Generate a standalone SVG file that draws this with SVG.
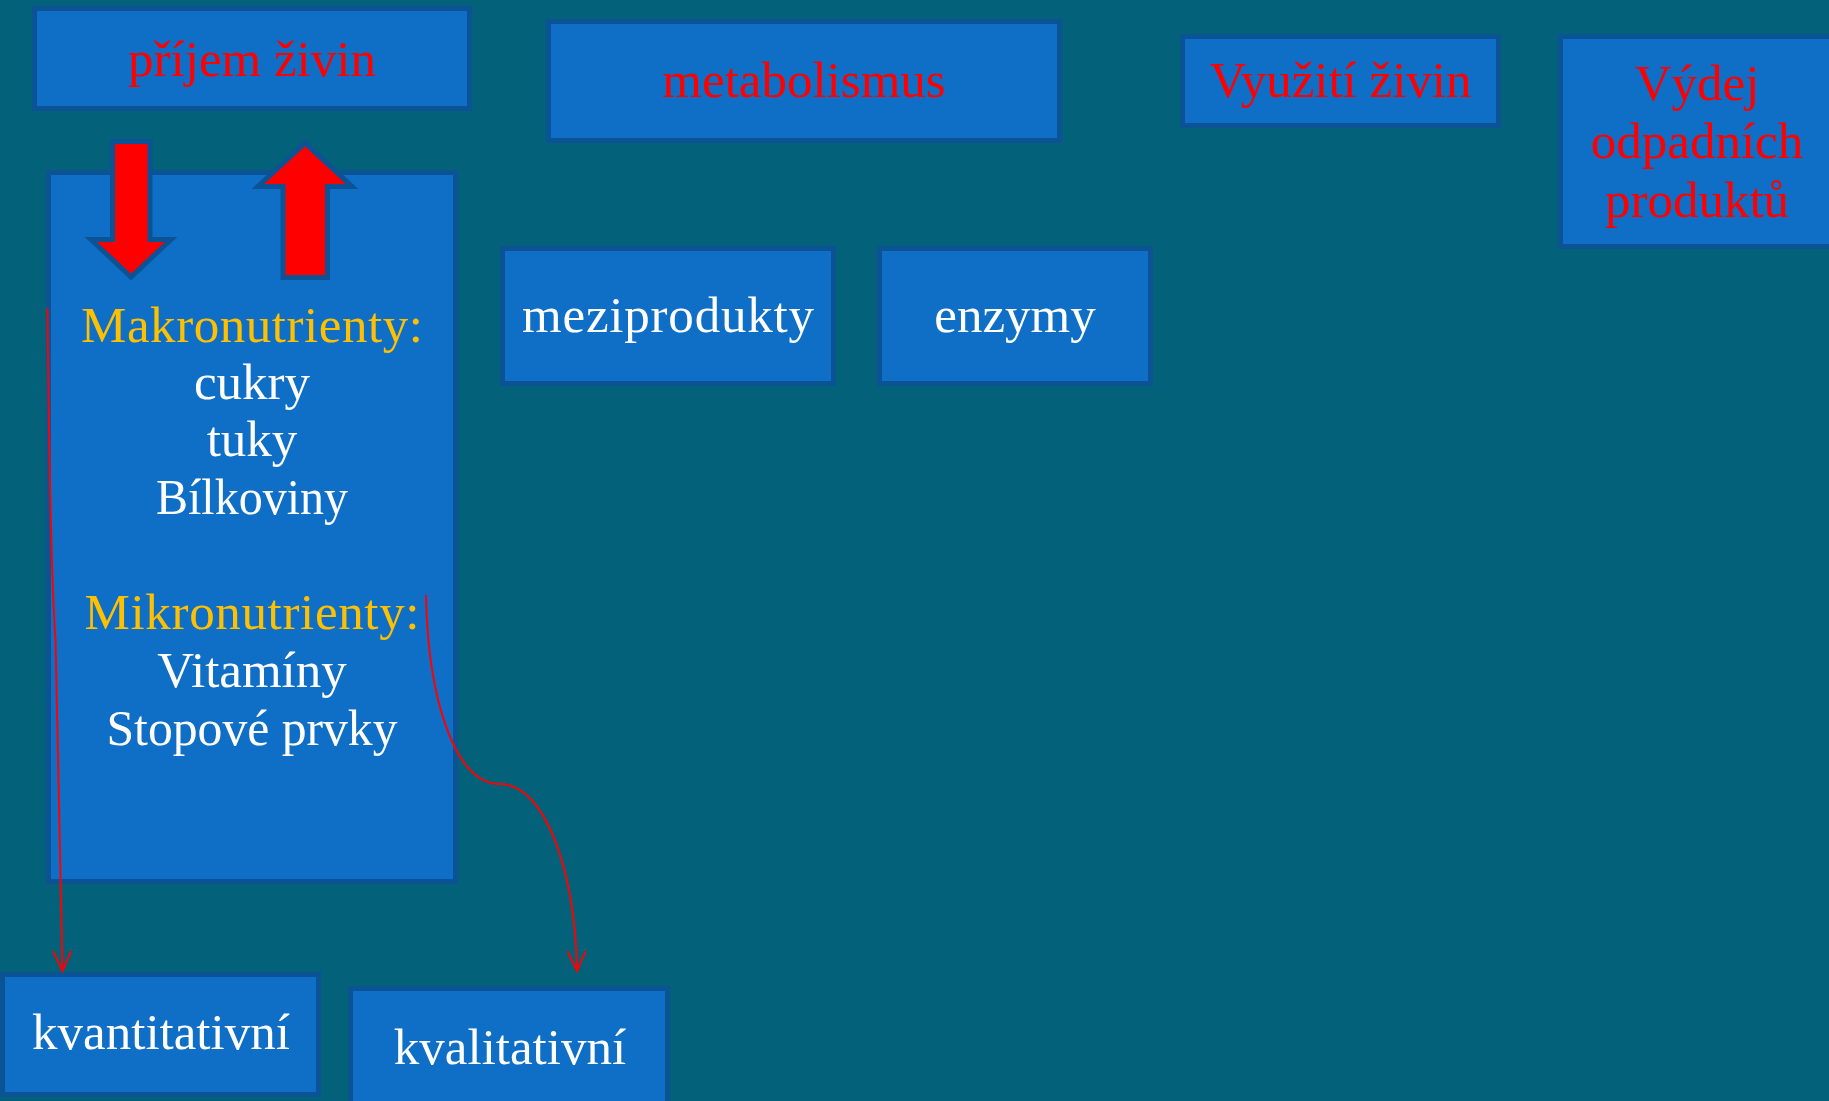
<svg xmlns="http://www.w3.org/2000/svg" width="1829" height="1101" viewBox="0 0 1829 1101">
<defs>
<style>
.box{fill:#0F6FC6;stroke:#0B5394;stroke-width:5}
.t{font-family:"Liberation Serif","Times New Roman",serif;font-size:51px;text-anchor:middle}
.red{fill:#FF0000}
.wh{fill:#FFFFFF}
.gold{fill:#FFC000}
.blk{fill:#FF0000;stroke:#0B5394;stroke-width:5;stroke-linejoin:miter}
.con{fill:none;stroke:#FF0000;stroke-width:2}
</style>
<marker id="ah" viewBox="0 0 24 20" refX="22" refY="10" markerWidth="24" markerHeight="20" markerUnits="userSpaceOnUse" orient="auto">
<path d="M2,1 L22,10 L2,19" fill="none" stroke="#FF0000" stroke-width="2"/>
</marker>
</defs>
<rect width="1829" height="1101" fill="#03617A"/>
<g id="prijem">
<rect class="box" x="34.5" y="8.5" width="435" height="100"/>
<text class="t red" x="252" y="76">příjem živin</text>
</g>
<g id="metabolismus">
<rect class="box" x="548.5" y="21.5" width="511" height="119"/>
<text class="t red" x="804" y="97">metabolismus</text>
</g>
<g id="vyuziti">
<rect class="box" x="1182.5" y="36.5" width="316" height="89"/>
<text class="t red" x="1340.5" y="97">Využití živin</text>
</g>
<g id="vydej">
<rect class="box" x="1560.5" y="36.5" width="279" height="210"/>
<text class="t red" x="1697" y="100">Výdej</text>
<text class="t red" x="1697" y="158">odpadních</text>
<text class="t red" x="1697" y="217">produktů</text>
</g>
<g id="nutrienty">
<rect class="box" x="48.5" y="172.5" width="407" height="709"/>
<text class="t gold" x="252" y="342" textLength="342" lengthAdjust="spacing">Makronutrienty:</text>
<text class="t wh" x="252" y="399">cukry</text>
<text class="t wh" x="252" y="456">tuky</text>
<text class="t wh" x="252" y="514" textLength="192" lengthAdjust="spacingAndGlyphs">Bílkoviny</text>
<text class="t gold" x="252" y="629" textLength="335" lengthAdjust="spacing">Mikronutrienty:</text>
<text class="t wh" x="252" y="687">Vitamíny</text>
<text class="t wh" x="252" y="745" textLength="291" lengthAdjust="spacingAndGlyphs">Stopové prvky</text>
</g>
<g id="meziprodukty">
<rect class="box" x="502.5" y="248.5" width="331" height="135"/>
<text class="t wh" x="668" y="332" textLength="292" lengthAdjust="spacing">meziprodukty</text>
</g>
<g id="enzymy">
<rect class="box" x="879.5" y="248.5" width="271" height="135"/>
<text class="t wh" x="1015" y="332">enzymy</text>
</g>
<g id="kvantitativni">
<rect class="box" x="2.5" y="974.5" width="316" height="120"/>
<text class="t wh" x="161" y="1049">kvantitativní</text>
</g>
<g id="kvalitativni">
<rect class="box" x="350.5" y="988.5" width="317" height="125"/>
<text class="t wh" x="510" y="1064">kvalitativní</text>
</g>
<g id="block-arrows">
<path class="blk" d="M112.5,141.5 L150,141.5 L150,239.5 L171,239.5 L131,277 L91,239.5 L112.5,239.5 Z"/>
<path class="blk" d="M283,277.5 L327.5,277.5 L327.5,186.5 L352,186.5 L305,143 L258,186.5 L283,186.5 Z"/>
</g>
<g id="connectors">
<path class="con" d="M47.5,308 Q50,560 55.5,640 L62.5,971" marker-end="url(#ah)"/>
<path class="con" d="M426,595 C428,700 455,784 500,784 C545,784 575,870 577,971" marker-end="url(#ah)"/>
</g>
</svg>
